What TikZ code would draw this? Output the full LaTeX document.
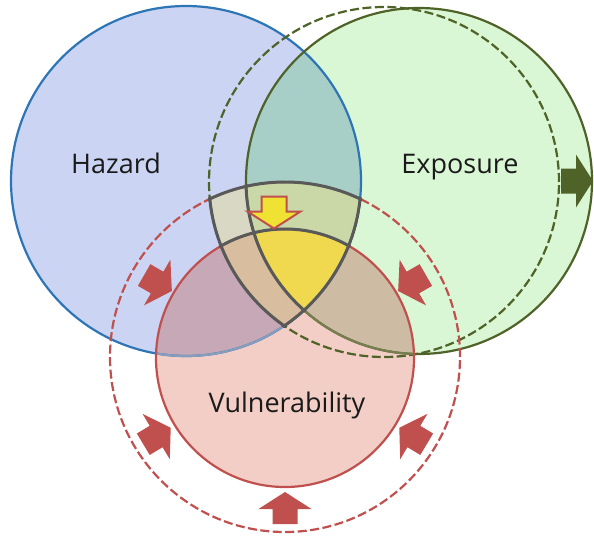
\documentclass[tikz,border=0pt]{standalone}
\usepackage{fontspec}
\setmainfont{Open Sans}
\definecolor{hfillc}{HTML}{CBD5F3}
\definecolor{efillc}{HTML}{DAF7D5}
\definecolor{vfillc}{HTML}{F2CEC6}
\definecolor{hefillc}{HTML}{A7CFC7}
\definecolor{hvfillc}{HTML}{C7A8B6}
\definecolor{evfillc}{HTML}{CEBBA4}
\definecolor{ofillc}{HTML}{D9D8C4}
\definecolor{oefillc}{HTML}{C9D8A6}
\definecolor{ovfillc}{HTML}{D8BD9F}
\definecolor{yelc}{HTML}{F1D94F}
\definecolor{hstroke}{HTML}{2E75B6}
\definecolor{estroke}{HTML}{4F6228}
\definecolor{vstroke}{HTML}{C0504D}
\definecolor{greyline}{HTML}{595959}
\definecolor{arrowyel}{HTML}{F0E232}
\definecolor{textc}{HTML}{1A1A1A}
\newcommand\Hp{(186,181) circle[radius=175pt]}
\newcommand\Ep{(419,181) circle[radius=173pt]}
\newcommand\Edp{(384,182) circle[radius=175pt]}
\newcommand\Vp{(285,358) circle[radius=129pt]}
\newcommand\Vdp{(285,357) circle[radius=175pt]}
\newcommand\blockarrow[4]{%
  \begin{scope}[shift={(#1,#2)},rotate=#3]
    \path[#4] (-16,-12.5)--(-1,-12.5)--(-1,-26.5)--(16,0)--(-1,26.5)--(-1,12.5)--(-16,12.5)--cycle;
  \end{scope}}
\begin{document}
\begin{tikzpicture}[x=1pt,y=-1pt,
  hline/.style={draw=hstroke,line width=2.2pt},
  eline/.style={draw=estroke,line width=2.2pt},
  edline/.style={draw=estroke,line width=2.2pt,dash pattern=on 9pt off 3.5pt},
  vline/.style={draw=vstroke,line width=2.2pt},
  vdline/.style={draw=vstroke,line width=2.2pt,dash pattern=on 9pt off 3.5pt},
  gline/.style={draw=greyline,line width=3pt},
  redarrow/.style={fill=vstroke},
  greenarrow/.style={fill=estroke},
  yelarrow/.style={fill=arrowyel,draw=vstroke,line width=2pt,line join=miter},
  label/.style={font=\fontsize{27}{31}\selectfont,text=textc,anchor=base,inner sep=0pt}]
\useasboundingbox (0,0) rectangle (594,538);
% base fills
\fill[hfillc] \Hp;
\fill[efillc] \Ep;
\fill[vfillc] \Vp;
\begin{scope}
  \clip \Hp;
  \fill[hefillc] \Ep;
  \fill[hvfillc] \Vp;
\end{scope}
\begin{scope}
  \clip \Ep;
  \fill[evfillc] \Vp;
\end{scope}
% central region H & Ed & Vd
\begin{scope}
  \clip \Hp;
  \clip \Edp;
  \clip \Vdp;
  \fill[ofillc] (0,0) rectangle (594,538);
  \fill[oefillc] \Ep;
  \fill[ovfillc] \Vp;
  \begin{scope}
    \clip \Ep;
    \fill[yelc] \Vp;
  \end{scope}
\end{scope}
% strokes
\draw[hline] \Hp;
\draw[eline] \Ep;
\draw[edline] \Edp;
\begin{scope}
  \clip \Vp;
  \draw[hline,draw=hstroke!55!vfillc] \Hp;
  \draw[eline,draw=estroke!75!vfillc] \Ep;
\end{scope}
\draw[vline] \Vp;
\draw[vdline] \Vdp;
% grey outline of the central region
\begin{scope}
  \clip (186,181) circle[radius=177pt];
  \clip (384,182) circle[radius=177pt];
  \clip (285,357) circle[radius=177pt];
  \draw[gline] \Hp;
  \draw[gline] \Edp;
  \draw[gline] \Vdp;
  \draw[gline] \Ep;
  \draw[gline] \Vp;
\end{scope}
% arrows
\blockarrow{158}{283}{-30}{redarrow}
\blockarrow{412}{283}{-150}{redarrow}
\blockarrow{157}{436}{31}{redarrow}
\blockarrow{413}{436}{149}{redarrow}
\blockarrow{285}{508}{90}{redarrow}
\blockarrow{577}{181}{0}{greenarrow}
\blockarrow{274}{212.5}{-90}{yelarrow}
% labels
\node[label] (hazard) at (116,173) {Hazard};
\node[label] (exposure) at (460,173) {Exposure};
\node[label] (vuln) at (287,412) {Vulnerability};
\end{tikzpicture}
\end{document}
